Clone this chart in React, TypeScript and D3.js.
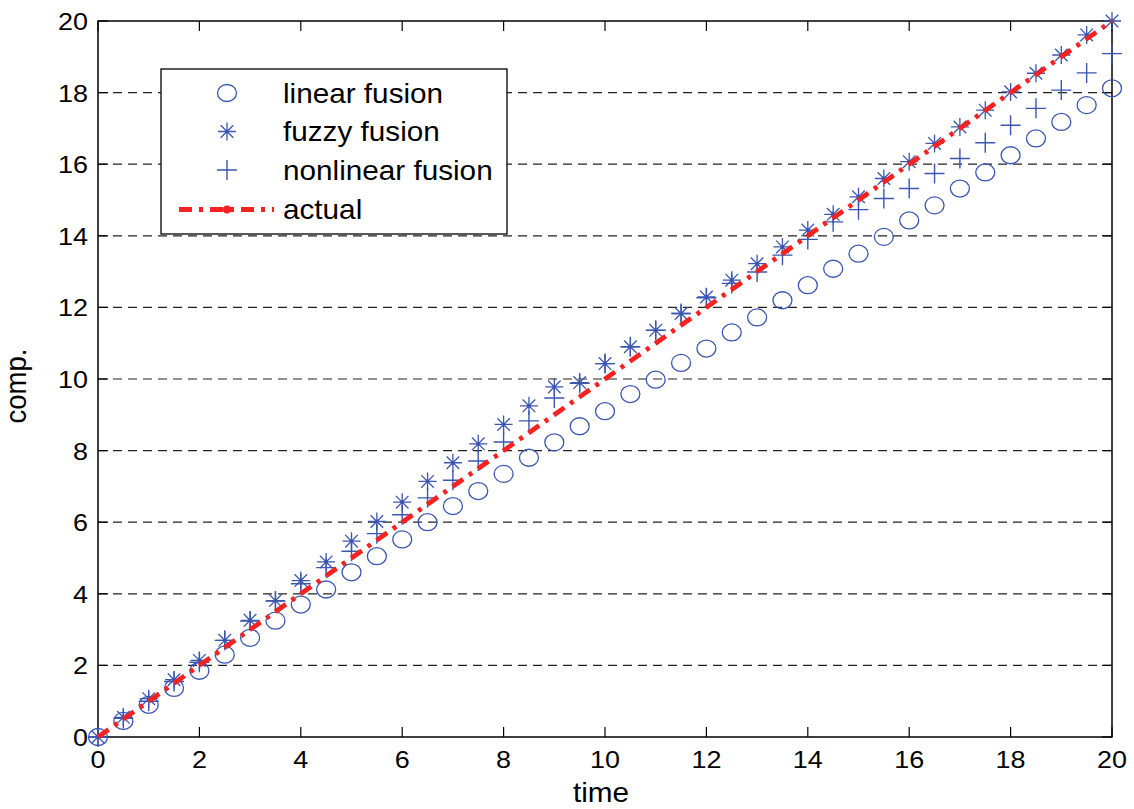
import React, { useEffect, useRef } from "react";
import * as d3 from "d3";

// time axis samples (0 to 20 in steps of 0.5)
const timeValues = [
  0, 0.5, 1, 1.5, 2, 2.5, 3, 3.5, 4, 4.5, 5, 5.5, 6, 6.5, 7, 7.5, 8, 8.5, 9, 9.5,
  10, 10.5, 11, 11.5, 12, 12.5, 13, 13.5, 14, 14.5, 15, 15.5, 16, 16.5, 17, 17.5,
  18, 18.5, 19, 19.5, 20,
];

const linearFusion = [
  0, 0.45, 0.9, 1.37, 1.85, 2.3, 2.77, 3.25, 3.7, 4.12, 4.6, 5.05, 5.52, 6.0,
  6.45, 6.87, 7.35, 7.8, 8.23, 8.68, 9.1, 9.58, 9.98, 10.45, 10.85, 11.3, 11.72,
  12.2, 12.62, 13.08, 13.5, 13.97, 14.43, 14.85, 15.32, 15.77, 16.25, 16.72,
  17.18, 17.65, 18.12,
];

const fuzzyFusion = [
  0, 0.55, 1.07, 1.6, 2.14, 2.7, 3.26, 3.81, 4.37, 4.89, 5.47, 6.02, 6.56, 7.14,
  7.66, 8.19, 8.73, 9.25, 9.78, 9.9, 10.43, 10.9, 11.36, 11.83, 12.29, 12.76,
  13.22, 13.69, 14.16, 14.6, 15.09, 15.6, 16.07, 16.58, 17.04, 17.51, 18.02,
  18.54, 19.05, 19.61, 20.0,
];

const nonlinearFusion = [
  0, 0.52, 1.0, 1.55, 2.09, 2.7, 3.24, 3.8, 4.28, 4.73, 5.19, 5.68, 6.21, 6.68,
  7.17, 7.71, 8.24, 8.83, 9.47, 9.88, 10.43, 10.9, 11.36, 11.83, 12.27, 12.67,
  12.99, 13.46, 13.9, 14.39, 14.73, 15.04, 15.32, 15.74, 16.16, 16.6, 17.09,
  17.56, 18.07, 18.55, 19.09,
];

const actualValues = timeValues.map((t) => t);

const xTicks = [0, 2, 4, 6, 8, 10, 12, 14, 16, 18, 20];
const yTicks = [0, 2, 4, 6, 8, 10, 12, 14, 16, 18, 20];

const legendLabels = ["linear fusion", "fuzzy fusion", "nonlinear fusion", "actual"];

const BLUE = "#3a56b0";
const RED = "#f52222";
const FONT = "'Liberation Sans', Arial, sans-serif";
const STRETCH = 1.1; // the original glyphs are a bit wider than Arial

const W = 1134;
const H = 809;
const margin = { top: 21, right: 22, bottom: 72, left: 98 };

export default function App() {
  const svgRef = useRef<SVGSVGElement>(null);

  useEffect(() => {
    const svg = d3.select(svgRef.current);
    svg.selectAll("*").remove();

    const x0 = margin.left;
    const x1 = W - margin.right;
    const y0 = H - margin.bottom;
    const y1 = margin.top;

    const x = d3.scaleLinear().domain([0, 20]).range([x0, x1]);
    const y = d3.scaleLinear().domain([0, 20]).range([y0, y1]);

    svg.append("rect").attr("width", W).attr("height", H).attr("fill", "#fff");

    // text helper: positioned by transform so it can be stretched
    const addText = (g: any, tx: number, ty: number, str: string, size: number, anchor = "start", extra = "") =>
      g
        .append("text")
        .attr("transform", `translate(${tx},${ty}) scale(${STRETCH},1)${extra}`)
        .attr("text-anchor", anchor)
        .attr("font-family", FONT)
        .attr("font-size", size)
        .attr("fill", "#000")
        .text(str);

    // horizontal dashed grid
    svg
      .append("g")
      .selectAll("line")
      .data(yTicks.slice(1, -1))
      .enter()
      .append("line")
      .attr("x1", x0)
      .attr("x2", x1)
      .attr("y1", (d) => y(d))
      .attr("y2", (d) => y(d))
      .attr("stroke", "#222")
      .attr("stroke-width", 1.2)
      .attr("stroke-dasharray", "9,6");

    // frame
    svg
      .append("rect")
      .attr("x", x0)
      .attr("y", y1)
      .attr("width", x1 - x0)
      .attr("height", y0 - y1)
      .attr("fill", "none")
      .attr("stroke", "#000")
      .attr("stroke-width", 1.5);

    // inward ticks on all four sides
    const tickLen = 10;
    const ticks = svg.append("g").attr("stroke", "#000").attr("stroke-width", 1.2);
    xTicks.forEach((t) => {
      ticks.append("line").attr("x1", x(t)).attr("x2", x(t)).attr("y1", y0).attr("y2", y0 - tickLen);
      ticks.append("line").attr("x1", x(t)).attr("x2", x(t)).attr("y1", y1).attr("y2", y1 + tickLen);
    });
    yTicks.forEach((t) => {
      ticks.append("line").attr("x1", x0).attr("x2", x0 + tickLen).attr("y1", y(t)).attr("y2", y(t));
      ticks.append("line").attr("x1", x1).attr("x2", x1 - tickLen).attr("y1", y(t)).attr("y2", y(t));
    });

    // tick labels
    const labels = svg.append("g");
    xTicks.forEach((t) => addText(labels, x(t), y0 + 31, String(t), 24.5, "middle"));
    yTicks.forEach((t) => addText(labels, x0 - 10, y(t) + 9, String(t), 24.5, "end"));

    // axis titles
    addText(svg, 601, 802, "time", 27, "middle");
    addText(svg, 26, 386, "comp.", 27.5, "middle", " rotate(-90)");

    // marker drawers
    const drawCircle = (g: any, cx: number, cy: number) =>
      g
        .append("ellipse")
        .attr("cx", cx)
        .attr("cy", cy)
        .attr("rx", 9.5)
        .attr("ry", 8.5)
        .attr("fill", "none")
        .attr("stroke", BLUE)
        .attr("stroke-width", 1.3);

    const drawPlus = (g: any, cx: number, cy: number) =>
      g
        .append("path")
        .attr("d", `M${cx - 10},${cy}H${cx + 10}M${cx},${cy - 10}V${cy + 10}`)
        .attr("stroke", BLUE)
        .attr("stroke-width", 1.4)
        .attr("fill", "none");

    const drawStar = (g: any, cx: number, cy: number) => {
      const r = 9;
      const d = r * 0.7;
      g.append("path")
        .attr(
          "d",
          `M${cx - r},${cy}H${cx + r}M${cx},${cy - r}V${cy + r}` +
            `M${cx - d},${cy - d}L${cx + d},${cy + d}M${cx - d},${cy + d}L${cx + d},${cy - d}`
        )
        .attr("stroke", BLUE)
        .attr("stroke-width", 1.3)
        .attr("fill", "none");
      g.append("circle").attr("cx", cx).attr("cy", cy).attr("r", 1.8).attr("fill", BLUE);
    };

    const plot = svg.append("g");

    timeValues.forEach((t, i) => drawCircle(plot, x(t), y(linearFusion[i])));
    timeValues.forEach((t, i) => drawStar(plot, x(t), y(fuzzyFusion[i])));
    timeValues.forEach((t, i) => drawPlus(plot, x(t), y(nonlinearFusion[i])));

    // actual: red dash-dot line
    const line = d3
      .line<number>()
      .x((_, i) => x(timeValues[i]))
      .y((d) => y(d));

    plot
      .append("path")
      .datum(actualValues)
      .attr("d", line)
      .attr("fill", "none")
      .attr("stroke", RED)
      .attr("stroke-width", 4.8)
      .attr("stroke-dasharray", "13,7,4,7");

    // legend
    const lg = svg.append("g");
    lg.append("rect")
      .attr("x", 161)
      .attr("y", 69)
      .attr("width", 346)
      .attr("height", 165)
      .attr("fill", "#fff")
      .attr("stroke", "#000")
      .attr("stroke-width", 1.3);

    const rowY = [93, 131.5, 170, 209.5];
    drawCircle(lg, 227, rowY[0]);
    drawStar(lg, 227, rowY[1]);
    drawPlus(lg, 227, rowY[2]);
    lg.append("line")
      .attr("x1", 179)
      .attr("x2", 274)
      .attr("y1", rowY[3])
      .attr("y2", rowY[3])
      .attr("stroke", RED)
      .attr("stroke-width", 4.8)
      .attr("stroke-dasharray", "13,7,4,7");
    lg.append("circle").attr("cx", 227).attr("cy", rowY[3]).attr("r", 4).attr("fill", RED);

    legendLabels.forEach((lab, i) => addText(lg, 283, rowY[i] + 9.8, lab, 27));
  }, []);

  return (
    <svg
      ref={svgRef}
      width={W}
      height={H}
      style={{ position: "absolute", left: 0, top: 0, display: "block" }}
    />
  );
}
